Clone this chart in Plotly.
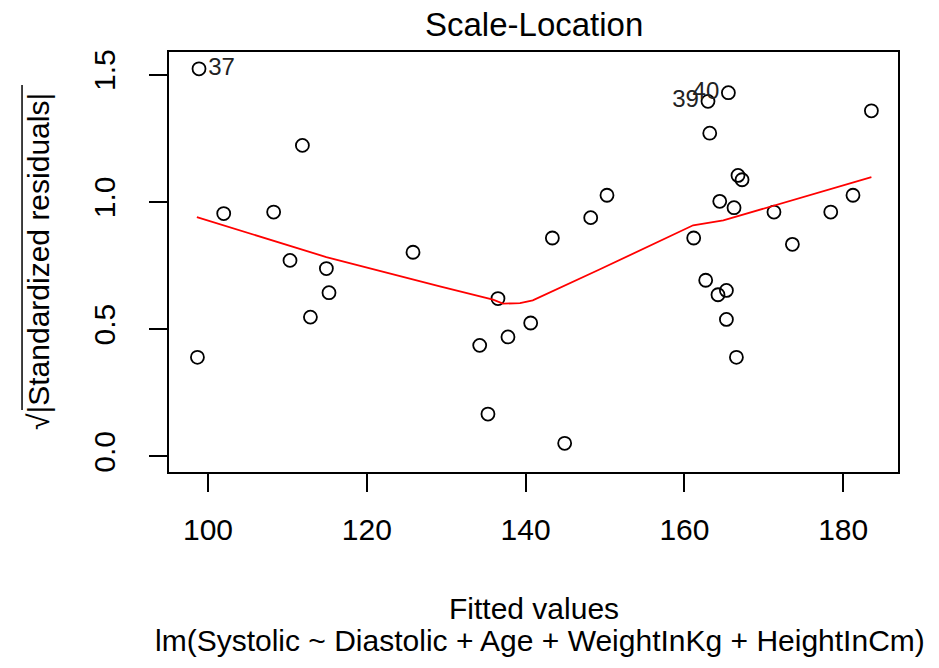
import plotly.graph_objects as go

# Fitted values and sqrt(|standardized residuals|)
fitted = [98.87, 111.89, 101.98, 108.27, 110.33, 114.91, 125.82, 143.37, 115.24, 112.90,
          98.67, 136.52, 140.64, 137.78, 134.22, 135.26, 144.92, 165.54, 162.97, 163.19,
          166.75, 167.26, 164.45, 166.25, 171.28, 178.43, 181.23, 183.55, 150.25, 148.20,
          161.17, 173.60, 162.68, 164.23, 165.29, 165.29, 166.55]
sqrt_std_resid = [1.523, 1.222, 0.954, 0.960, 0.770, 0.738, 0.802, 0.858, 0.643, 0.547,
                  0.389, 0.620, 0.524, 0.469, 0.436, 0.166, 0.051, 1.429, 1.395, 1.270,
                  1.104, 1.087, 1.002, 0.977, 0.960, 0.960, 1.026, 1.358, 1.026, 0.938,
                  0.858, 0.833, 0.692, 0.635, 0.652, 0.538, 0.389]
point_labels = ["37", "", "", "", "", "", "", "", "", "",
                "", "", "", "", "", "", "", "40", "39", "",
                "", "", "", "", "", "", "", "", "", "",
                "", "", "", "", "", "", ""]
label_pos = ["middle right" if i == 0 else "middle left" for i in range(len(fitted))]

# Smoother (red line)
lowess_x = [98.6, 114.9, 129.2, 135.9, 137.15, 139.3, 140.9, 141.8, 145.1, 149.3, 161.1, 164.9, 183.55]
lowess_y = [0.940, 0.783, 0.668, 0.616, 0.600, 0.602, 0.613, 0.626, 0.672, 0.734, 0.908, 0.927, 1.097]

x_ticks = [100, 120, 140, 160, 180]
y_ticks = [0.0, 0.5, 1.0, 1.5]
y_ticktext = ["0.0", "0.5", "1.0", "1.5"]

FONT = "Liberation Sans, Arial, sans-serif"

fig = go.Figure()
fig.add_trace(go.Scatter(
    x=fitted, y=sqrt_std_resid, mode="markers+text",
    text=point_labels, textposition=label_pos,
    textfont=dict(family=FONT, size=24, color="#222222"),
    marker=dict(symbol="circle-open", size=13, color="black", line=dict(width=1.8, color="black")),
    showlegend=False, cliponaxis=False,
))
fig.add_trace(go.Scatter(
    x=lowess_x, y=lowess_y, mode="lines",
    line=dict(color="red", width=1.8), showlegend=False,
))

fig.update_layout(
    width=939, height=668,
    margin=dict(l=169, r=41, t=52, b=196),
    paper_bgcolor="white", plot_bgcolor="white",
    font=dict(family=FONT, size=30, color="black"),
    xaxis=dict(range=[95.09, 186.9], tickvals=x_ticks, ticks="outside", ticklen=18, tickwidth=2,
               tickcolor="black", showline=True, linewidth=2, linecolor="black", mirror=True,
               showgrid=False, zeroline=False, ticklabelstandoff=12,
               tickfont=dict(family=FONT, size=30, color="black")),
    yaxis=dict(range=[-0.0617, 1.589], tickvals=y_ticks, ticktext=y_ticktext, ticks="outside",
               ticklen=18, tickwidth=2, tickcolor="black", showline=True, linewidth=2,
               linecolor="black", mirror=True, showgrid=False, zeroline=False, tickangle=-90,
               ticklabelstandoff=22,
               tickfont=dict(family=FONT, size=30, color="black")),
    annotations=[
        dict(text="Scale-Location", xref="paper", yref="paper", x=0.5, y=1, yanchor="middle",
             yshift=28, showarrow=False, font=dict(family=FONT, size=33, color="black")),
        dict(text="Fitted values", xref="paper", yref="paper", x=0.5, y=0, yanchor="middle",
             yshift=-136, showarrow=False, font=dict(family=FONT, size=30, color="black")),
        dict(text="lm(Systolic ~ Diastolic + Age + WeightInKg + HeightInCm)", xref="paper",
             yref="paper", x=0.5, y=0, yanchor="middle", yshift=-168, xshift=6, showarrow=False,
             font=dict(family=FONT, size=30, color="black")),
        dict(text="√|Standardized residuals|", xref="paper", yref="paper", x=0, y=0.5,
             xanchor="center", yanchor="middle", xshift=-131, textangle=-90, showarrow=False,
             font=dict(family=FONT, size=30, color="black")),
    ],
    shapes=[
        # overline of the square-root sign in the y-axis title
        dict(type="line", xref="paper", yref="paper", x0=-0.2016, x1=-0.2016, y0=0.9214, y1=0.1476,
             line=dict(color="black", width=1.5)),
    ],
)

fig.write_html("out.html")
